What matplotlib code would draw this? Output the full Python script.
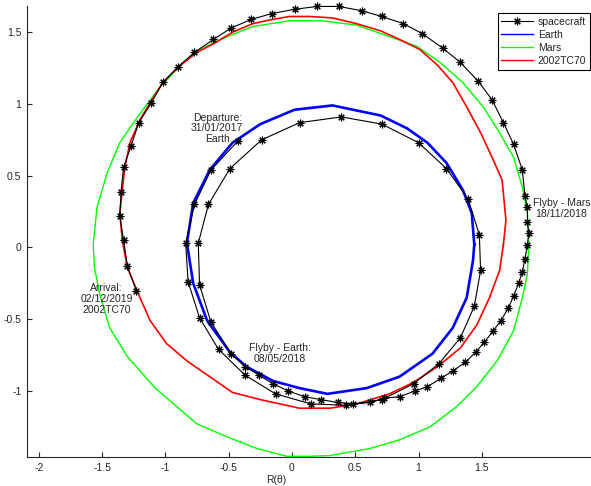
import numpy as np
import matplotlib
matplotlib.use('Agg')
import matplotlib.pyplot as plt
from matplotlib.lines import Line2D

plt.rcParams['font.family'] = ['Liberation Sans', 'DejaVu Sans']
plt.rcParams['axes.unicode_minus'] = False

# spacecraft trajectory (departure -> Earth flyby -> Mars flyby -> arrival)
sc_x = [-0.43, -0.64, -0.77, -0.84, -0.82, -0.73, -0.58, -0.37, -0.13, 0.15,
        0.43, 0.71, 0.96, 1.16, 1.33, 1.44, 1.49, 1.48, 1.39, 1.22,
        1.00, 0.71, 0.39, 0.06, -0.24, -0.49, -0.66, -0.74, -0.73, -0.64,
        -0.48, -0.37, -0.26, -0.15, -0.03, 0.10, 0.23, 0.36, 0.48, 0.62,
        0.73, 0.85, 0.97, 1.07, 1.18, 1.27, 1.37, 1.45, 1.52, 1.59,
        1.65, 1.71, 1.75, 1.79, 1.82, 1.84, 1.86, 1.87, 1.86, 1.86,
        1.84, 1.82, 1.75, 1.67, 1.58, 1.47, 1.33, 1.19, 1.03, 0.88,
        0.71, 0.55, 0.37, 0.20, 0.02, -0.16, -0.32, -0.48, -0.62, -0.77,
        -0.90, -1.02, -1.11, -1.21, -1.27, -1.33, -1.35, -1.36, -1.33, -1.30, -1.23]
sc_y = [0.74, 0.54, 0.30, 0.03, -0.24, -0.49, -0.71, -0.89, -1.02, -1.09,
        -1.10, -1.06, -0.95, -0.81, -0.63, -0.41, -0.16, 0.09, 0.34, 0.55,
        0.73, 0.86, 0.91, 0.87, 0.75, 0.55, 0.30, 0.03, -0.26, -0.52,
        -0.74, -0.83, -0.89, -0.95, -1.00, -1.04, -1.06, -1.08, -1.09, -1.08,
        -1.05, -1.04, -1.00, -0.97, -0.91, -0.86, -0.80, -0.73, -0.66, -0.58,
        -0.51, -0.42, -0.34, -0.25, -0.17, -0.08, 0.02, 0.10, 0.18, 0.28,
        0.36, 0.54, 0.72, 0.87, 1.03, 1.16, 1.29, 1.39, 1.49, 1.56,
        1.61, 1.65, 1.68, 1.68, 1.66, 1.63, 1.59, 1.53, 1.45, 1.36,
        1.26, 1.15, 1.01, 0.87, 0.71, 0.56, 0.39, 0.22, 0.05, -0.13, -0.30]

earth_x = [1.44, 1.42, 1.35, 1.22, 1.07, 0.91, 0.70, 0.32, 0.02, -0.25,
           -0.47, -0.65, -0.78, -0.83, -0.78, -0.67, -0.49, -0.36, -0.15, 0.06,
           0.28, 0.59, 0.85, 1.11, 1.27, 1.38, 1.43, 1.44]
earth_y = [0.02, 0.24, 0.40, 0.59, 0.73, 0.83, 0.92, 0.99, 0.96, 0.86,
           0.73, 0.54, 0.31, 0.03, -0.25, -0.51, -0.73, -0.83, -0.93, -0.98,
           -1.02, -0.98, -0.90, -0.74, -0.56, -0.35, -0.09, 0.02]

mars_x = [1.87, 1.86, 1.82, 1.75, 1.64, 1.51, 1.35, 1.17, 0.99, 0.77,
          0.51, 0.24, -0.02, -0.31, -0.51, -0.73, -0.88, -1.04, -1.22, -1.36,
          -1.46, -1.54, -1.57, -1.56, -1.52, -1.44, -1.30, -1.08, -0.75, -0.51,
          -0.28, -0.04, 0.14, 0.30, 0.62, 0.85, 1.09, 1.30, 1.46, 1.62,
          1.75, 1.82, 1.86, 1.87]
mars_y = [0.02, 0.24, 0.42, 0.63, 0.80, 0.98, 1.15, 1.29, 1.40, 1.47,
          1.55, 1.58, 1.58, 1.54, 1.47, 1.38, 1.27, 1.12, 0.91, 0.73,
          0.52, 0.28, 0.02, -0.14, -0.32, -0.56, -0.76, -0.98, -1.23, -1.32,
          -1.40, -1.455, -1.455, -1.45, -1.40, -1.34, -1.25, -1.11, -0.97, -0.79,
          -0.58, -0.35, -0.18, 0.02]

tc_x = [1.67, 1.69, 1.66, 1.59, 1.49, 1.38, 1.27, 1.15, 1.01, 0.85,
        0.70, 0.51, 0.32, 0.14, -0.02, -0.15, -0.31, -0.47, -0.62, -0.75,
        -0.88, -1.02, -1.12, -1.20, -1.28, -1.32, -1.34, -1.36, -1.34, -1.30,
        -1.22, -1.12, -0.99, -0.83, -0.65, -0.47, -0.25, 0.06, 0.30, 0.51,
        0.77, 0.96, 1.15, 1.33, 1.46, 1.56, 1.64, 1.67]
tc_y = [0.02, 0.19, 0.47, 0.61, 0.80, 0.98, 1.15, 1.27, 1.38, 1.45,
        1.51, 1.56, 1.60, 1.61, 1.61, 1.59, 1.56, 1.50, 1.42, 1.36,
        1.27, 1.15, 1.01, 0.89, 0.73, 0.56, 0.40, 0.24, 0.05, -0.14,
        -0.31, -0.51, -0.67, -0.79, -0.90, -1.01, -1.06, -1.12, -1.12, -1.09,
        -1.02, -0.94, -0.83, -0.70, -0.54, -0.35, -0.16, 0.02]

x_ticks = [-2, -1.5, -1, -0.5, 0, 0.5, 1, 1.5]
y_ticks = [-1, -0.5, 0, 0.5, 1, 1.5]
labels = ['spacecraft', 'Earth', 'Mars', '2002TC70']

txt_col = '#262626'
asterisk = (8, 2, 0)

fig = plt.figure(figsize=(5.91, 4.86), dpi=100)
ax = fig.add_axes([27/591, 29/486, 564/591, 451/486])

ax.plot(earth_x, earth_y, color='#0000ff', lw=1.9, clip_on=False, zorder=2)
ax.plot(mars_x, mars_y, color='#00ff00', lw=1.0, clip_on=False, zorder=2)
ax.plot(tc_x, tc_y, color='#ff0000', lw=1.2, clip_on=False, zorder=2)
ax.plot(sc_x, sc_y, color='black', lw=0.8, marker=asterisk, ms=5.5, mew=0.8,
        clip_on=False, zorder=3)

# annotations
fs = 7.5
ax.text(-0.59, 0.83, 'Departure:\n31/01/2017\nEarth', ha='center', va='center',
        fontsize=fs, color=txt_col, linespacing=1.1)
ax.text(-0.095, -0.74, 'Flyby - Earth:\n08/05/2018', ha='center', va='center',
        fontsize=fs, color=txt_col, linespacing=1.1)
ax.text(2.13, 0.27, 'Flyby - Mars\n18/11/2018', ha='center', va='center',
        fontsize=fs, color=txt_col, linespacing=1.1, clip_on=False)
ax.text(-1.465, -0.36, 'Arrival:\n02/12/2019\n2002TC70', ha='center', va='center',
        fontsize=fs, color=txt_col, linespacing=1.1)

ax.set_xlim(-2.093, 2.362)
ax.set_ylim(-1.46, 1.683)
ax.set_xticks(x_ticks)
ax.set_yticks(y_ticks)
ax.set_xticklabels([f'{v:g}' for v in x_ticks])
ax.set_yticklabels([f'{v:g}' for v in y_ticks])

for s in ['top', 'right']:
    ax.spines[s].set_visible(False)
for s in ['left', 'bottom']:
    ax.spines[s].set_color(txt_col)
    ax.spines[s].set_linewidth(0.8)
ax.tick_params(direction='in', length=3.5, width=0.8, colors=txt_col,
               labelsize=fs, pad=4)

ax.set_xlabel('R(θ)', fontsize=fs, color=txt_col)
ax.xaxis.set_label_coords((276 - 27) / 564, -0.041)

handles = [
    Line2D([], [], color='black', lw=0.8, marker=asterisk, ms=5.5, mew=0.8),
    Line2D([], [], color='#0000ff', lw=1.0),
    Line2D([], [], color='#00ff00', lw=1.0),
    Line2D([], [], color='#ff0000', lw=1.0),
]
leg = ax.legend(handles, labels, loc='upper right',
                bbox_to_anchor=(590/591, 1 - 13/486), bbox_transform=fig.transFigure,
                fontsize=fs, frameon=True, fancybox=False, framealpha=1,
                edgecolor='black', handlelength=3.0, handletextpad=0.5,
                labelspacing=0.3, borderpad=0.35, borderaxespad=0)
leg.get_frame().set_linewidth(0.8)
for t in leg.get_texts():
    t.set_color(txt_col)

fig.savefig('out.png', dpi=100)
